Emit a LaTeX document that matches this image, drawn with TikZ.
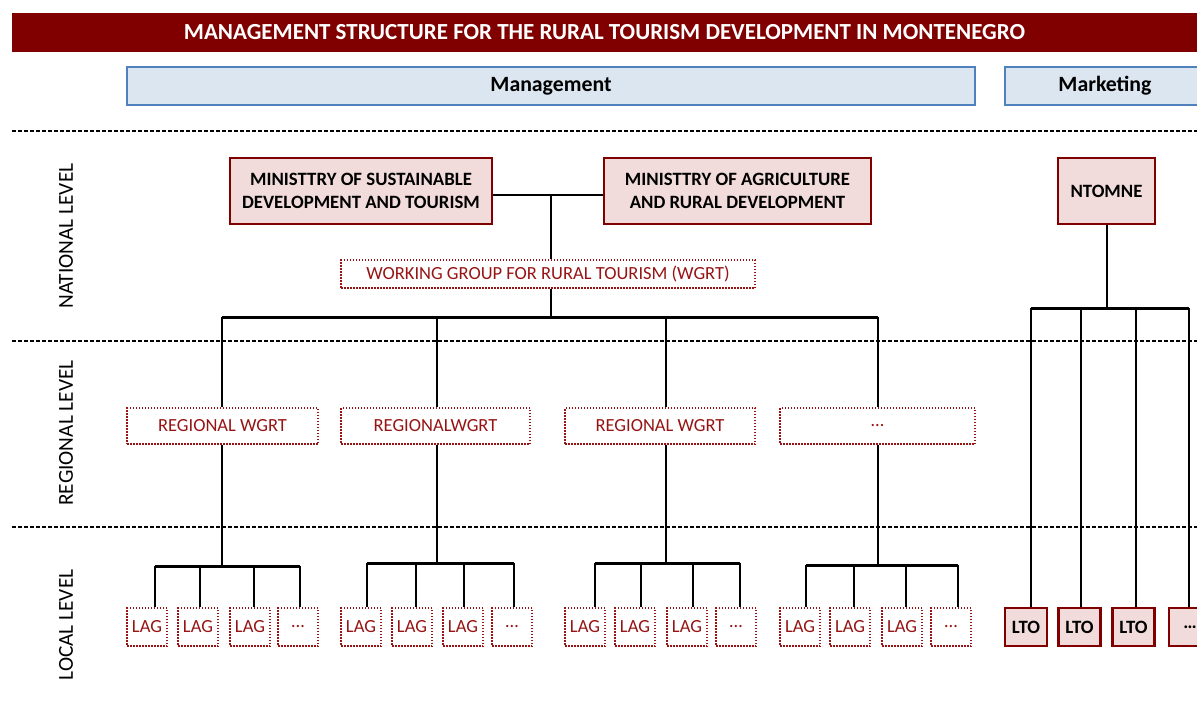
\documentclass[tikz,border=0pt]{standalone}
\usepackage{fontspec}
\setmainfont{Carlito}
\usetikzlibrary{positioning}

\definecolor{titlered}{RGB}{128,0,0}
\definecolor{darkred}{RGB}{150,20,20}
\definecolor{boxpink}{RGB}{242,220,219}
\definecolor{headblue}{RGB}{220,230,241}
\definecolor{headborder}{RGB}{79,129,189}

\begin{document}
\begin{tikzpicture}[x=1pt,y=-1pt]
\tikzstyle{every node}=[inner sep=0pt,font=\fontsize{18.5}{23}\selectfont];
\tikzstyle{banner}=[fill=titlered,text=white,font=\fontsize{23}{26}\selectfont\bfseries];
\tikzstyle{headbox}=[draw=headborder,fill=headblue,line width=1.8pt,font=\fontsize{21.8}{25}\selectfont\bfseries];
\tikzstyle{body}=[draw=titlered,fill=boxpink,line width=2.2pt,align=center,font=\fontsize{18.8}{23}\selectfont\bfseries];
\tikzstyle{group}=[draw=darkred,dash pattern=on 1.5pt off 1.5pt,line width=1.3pt,text=darkred];
\tikzstyle{levelname}=[rotate=90,font=\fontsize{21.3}{24}\selectfont];
\tikzstyle{levelline}=[dash pattern=on 4pt off 2pt,line width=1.3pt];
\tikzstyle{link}=[line width=2pt];
\tikzstyle{bus}=[line width=3pt];

\useasboundingbox (0,0) rectangle (1197,720);

% headers
\node[banner,minimum width=1185pt,minimum height=39pt] (title) at (604.5,32.5)
  {MANAGEMENT STRUCTURE FOR THE RURAL TOURISM DEVELOPMENT IN MONTENEGRO};
\node[headbox,minimum width=848pt,minimum height=38pt] (mgmt) at (551,86) {Management};
\node[headbox,minimum width=200pt,minimum height=38pt] (mkt) at (1105,86) {Marketing};

% levels
\foreach \y in {131,341,527}
  \draw[levelline] (12,\y) -- (1197,\y);
\node[levelname] (national) at (66,236) {NATIONAL LEVEL};
\node[levelname] (regional) at (66,433) {REGIONAL LEVEL};
\node[levelname] (local) at (66,625) {LOCAL LEVEL};

% national level
\node[body,minimum width=262pt,minimum height=66pt] (msdt) at (361,191)
  {MINISTTRY OF SUSTAINABLE\\DEVELOPMENT AND TOURISM};
\node[body,minimum width=267pt,minimum height=66pt] (mard) at (737.5,191)
  {MINISTTRY OF AGRICULTURE\\AND RURAL DEVELOPMENT};
\node[body,minimum width=97pt,minimum height=66pt] (ntomne) at (1106.5,191) {NTOMNE};
\node[group,minimum width=414pt,minimum height=28pt] (wgrt) at (548,274)
  {WORKING GROUP FOR RURAL TOURISM (WGRT)};

\coordinate (join) at (551,195);
\coordinate (spine) at (551,317);
\draw[link] (msdt.east |- join) -- (mard.west |- join);
\draw[link] (join) -- (join |- wgrt.north);
\draw[link] (join |- wgrt.south) -- (spine);

% regional level
\node[group,minimum width=191pt,minimum height=36pt] (reg1) at (222.5,426) {REGIONAL WGRT};
\node[group,minimum width=189pt,minimum height=36pt] (reg2) at (435.5,426) {REGIONALWGRT};
\node[group,minimum width=190pt,minimum height=36pt] (reg3) at (660,426) {REGIONAL WGRT};
\node[group,minimum width=195pt,minimum height=36pt] (reg4) at (877.5,426) {\ldots};

\coordinate (rd1) at (222,317);
\coordinate (rd2) at (437,317);
\coordinate (rd3) at (666,317);
\coordinate (rd4) at (878,317);
\draw[bus] (rd1) -- (rd4);

% local action groups under each regional group
\foreach \g/\by/\lags in {1/566/{147/155,198/200,250/254,298/300},
                          2/563/{361/367,412/416,463/464,512/514},
                          3/563/{585/595,635/641,687/693,736/740},
                          4/565/{800/806,850/854,902/906,951/958}}{
  \draw[link] (rd\g) -- (rd\g |- reg\g.north);
  \coordinate (lb\g) at (rd\g |- 0,\by);
  \draw[link] (rd\g |- reg\g.south) -- (lb\g);
  \foreach \x/\d [count=\i] in \lags {
    \node[group,minimum width=40pt,minimum height=38pt] (lag\g\i) at (\x,627)
      {\ifnum\i=4 \ldots\else LAG\fi};
    \coordinate (ld\g\i) at (\d,\by);
    \draw[link] (ld\g\i) -- (ld\g\i |- lag\g\i.north);
  }
  \draw[bus] (ld\g1) -- (ld\g4);
}

% marketing branch
\coordinate (mjoin) at (1107,308);
\draw[link] (ntomne.south) -- (ntomne.south |- mjoin);
\foreach \x/\d [count=\i] in {1026/1031,1079.5/1081,1133.5/1136,1190/1189} {
  \node[body,minimum width=42pt,minimum height=38pt] (lto\i) at (\x,627)
    {\ifnum\i=4 \ldots\else LTO\fi};
  \coordinate (lt\i) at (\d,308);
  \draw[link] (lt\i) -- (lt\i |- lto\i.north);
}
\draw[bus] (lt1) -- (lt4);
\end{tikzpicture}
\end{document}
